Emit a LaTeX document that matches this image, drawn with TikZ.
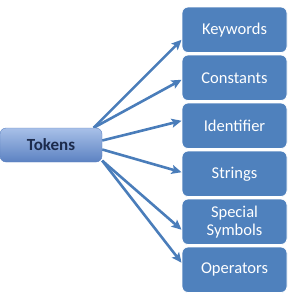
\documentclass[tikz,border=0pt]{standalone}
\usepackage{fontspec}
\setmainfont{Carlito}
\usetikzlibrary{arrows.meta,backgrounds}
\definecolor{boxblue}{HTML}{4F81BD}
\definecolor{arrowblue}{HTML}{4A7DBA}
\definecolor{tokdark}{HTML}{1C2B4C}
\definecolor{toktop}{HTML}{A8C0E8}
\definecolor{tokbot}{HTML}{5C82C2}
\begin{document}
\begin{tikzpicture}[x=1pt,y=-1pt,
  catbox/.style={rectangle, rounded corners=6pt, fill=boxblue, draw=white,
    line width=0.8pt, minimum width=105pt, minimum height=45.5pt, text=white,
    font=\fontsize{16.5}{18}\selectfont, align=center, inner sep=0pt},
  tokbox/.style={rectangle, rounded corners=6pt, top color=toktop,
    bottom color=tokbot, draw=tokbot, minimum width=102pt, minimum height=34pt,
    text=tokdark, font=\fontsize{17}{19}\selectfont\bfseries},
  link/.style={draw=arrowblue, line width=2.6pt,
    -{Stealth[length=10pt,width=9pt,inset=2pt]}}]
\useasboundingbox (0,0) rectangle (292,300);
\node[tokbox] (tok) at (51,145) {Tokens};
\node[catbox] (kw) at (234.5,29.75) {Keywords};
\node[catbox] (co) at (234.5,77.75) {Constants};
\node[catbox] (id) at (234.5,125.75) {Identifier};
\node[catbox] (st) at (234.5,173.75) {Strings};
\node[catbox] (sp) at (234.5,221.75) {Special\\Symbols};
\node[catbox] (op) at (234.5,269.75) {Operators};
\begin{scope}[on background layer]
\draw[link] (tok.22.5) -- ([yshift=-10pt]kw.west);
\draw[link] (tok.22.5) -- ([yshift=-2pt]co.west);
\draw[link] (tok.5.6) -- ([yshift=5pt]id.west);
\draw[link] (tok.-5.6) -- ([yshift=1.5pt]st.west);
\draw[link] (tok.-17) -- ([yshift=-8pt]sp.west);
\draw[link] (tok.-17) -- ([yshift=7pt]op.west);
\end{scope}
\end{tikzpicture}
\end{document}
